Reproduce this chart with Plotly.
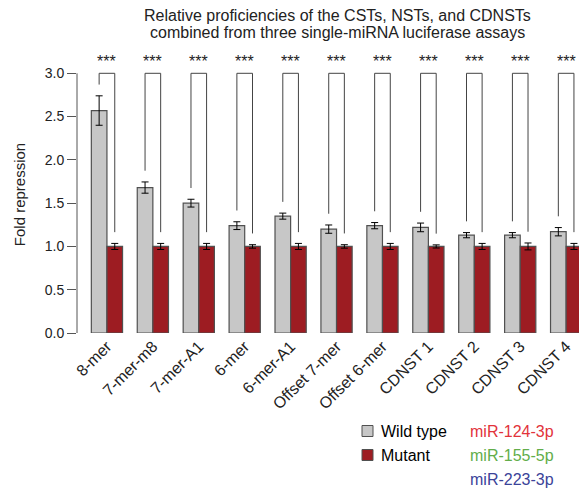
import plotly.graph_objects as go

# Site types tested in the luciferase assays
categories = ["8-mer", "7-mer-m8", "7-mer-A1", "6-mer", "6-mer-A1", "Offset 7-mer",
              "Offset 6-mer", "CDNST 1", "CDNST 2", "CDNST 3", "CDNST 4"]

# Fold repression (mean) and standard error
wild_type = [2.57, 1.68, 1.50, 1.24, 1.35, 1.20, 1.24, 1.22, 1.13, 1.13, 1.17]
wild_type_err = [0.17, 0.065, 0.045, 0.045, 0.035, 0.048, 0.036, 0.05, 0.03, 0.03, 0.048]
mutant = [1.00, 1.00, 1.00, 1.00, 1.00, 1.00, 1.00, 1.00, 1.00, 1.00, 1.00]
mutant_err = [0.035, 0.035, 0.035, 0.02, 0.035, 0.02, 0.035, 0.018, 0.035, 0.04, 0.035]
significance = ["***"] * len(categories)

mirnas = ["miR-124-3p", "miR-155-5p", "miR-223-3p"]
mirna_colors = ["#e2333b", "#62ad4a", "#3b4399"]

GRAY = "#c7c7c7"
RED = "#9d1c22"
EDGE = "#505050"
TEXT = "#222222"
FONT = "Liberation Sans, Arial, sans-serif"

W, H = 579, 493
L, T, B = 77, 56, 160
PLOT_H = H - T - B

x = list(range(len(categories)))
offset = 0.17
bar_w = 0.34

fig = go.Figure()

fig.add_trace(go.Bar(
    x=[i - offset for i in x], y=wild_type, width=bar_w, name="Wild type",
    marker=dict(color=GRAY, line=dict(color=EDGE, width=1.2)),
    error_y=dict(type="data", array=wild_type_err, color="black", thickness=1, width=3.5),
))
fig.add_trace(go.Bar(
    x=[i + offset for i in x], y=mutant, width=bar_w, name="Mutant",
    marker=dict(color=RED, line=dict(color=EDGE, width=1.2)),
    error_y=dict(type="data", array=mutant_err, color="black", thickness=1, width=3.5),
))

# Significance brackets joining each wild-type / mutant pair
top = 3.0
gap = 0.13
bx, by = [], []
for i, (w, we, m, me) in enumerate(zip(wild_type, wild_type_err, mutant, mutant_err)):
    bx += [i - offset, i - offset, i + offset, i + offset, None]
    by += [w + we + gap, top, top, m + me + gap, None]
fig.add_trace(go.Scatter(
    x=bx, y=by, mode="lines", line=dict(color="#444444", width=1),
    hoverinfo="skip", cliponaxis=False,
))

for i, s in enumerate(significance):
    fig.add_annotation(x=i, y=top + 0.02, text=s, showarrow=False, xref="x", yref="y",
                       yanchor="bottom", font=dict(family=FONT, size=16, color=TEXT))

# y axis line from 0 to 3
fig.add_shape(type="line", xref="paper", yref="y", x0=0, x1=0, y0=0, y1=3.0,
              line=dict(color="#555555", width=1))


def px(xp):
    """Pixel column -> paper x."""
    return (xp - L) / (W - L)


def py(yp):
    """Pixel row -> paper y."""
    return 1 - (yp - T) / PLOT_H


# Two-line title
for line, yc in [("Relative proficiencies of the CSTs, NSTs, and CDNSTs", 15.0),
                 ("combined from three single-miRNA luciferase assays", 32.5)]:
    fig.add_annotation(xref="paper", yref="paper", x=px(337), y=py(yc), text=line,
                       showarrow=False, xanchor="center", yanchor="middle",
                       font=dict(family=FONT, size=16, color=TEXT))

# Legend swatches and labels
legend_items = [("Wild type", GRAY, 431), ("Mutant", RED, 455)]
for label, col, yc in legend_items:
    fig.add_shape(type="rect", xref="paper", yref="paper",
                  x0=px(362), x1=px(373), y0=py(yc + 5.5), y1=py(yc - 5.5),
                  fillcolor=col, line=dict(color=EDGE, width=1))
    fig.add_annotation(xref="paper", yref="paper", x=px(379), y=py(yc),
                       text=label, showarrow=False, xanchor="left", yanchor="middle",
                       font=dict(family=FONT, size=16, color="black"))

for name, col, yc in zip(mirnas, mirna_colors, [431, 455, 479]):
    fig.add_annotation(xref="paper", yref="paper", x=px(468), y=py(yc),
                       text=name, showarrow=False, xanchor="left", yanchor="middle",
                       font=dict(family=FONT, size=16, color=col))

fig.update_layout(
    width=W, height=H,
    margin=dict(l=L, r=0, t=T, b=B),
    plot_bgcolor="white", paper_bgcolor="white",
    font=dict(family=FONT, size=14, color=TEXT),
    barmode="overlay",
    showlegend=False,
    xaxis=dict(range=[-0.652, 10.28], tickvals=x, ticktext=categories, tickangle=-45,
               showline=False, showgrid=False, zeroline=False, ticks="",
               tickfont=dict(family=FONT, size=16, color=TEXT)),
    yaxis=dict(range=[0, 3.2], tickvals=[0, 0.5, 1.0, 1.5, 2.0, 2.5, 3.0],
               ticktext=["0.0", "0.5", "1.0", "1.5", "2.0", "2.5", "3.0"],
               ticks="outside", ticklen=9, tickcolor="#555555", showline=False,
               showgrid=False, zeroline=False,
               title=dict(text="Fold repression", font=dict(family=FONT, size=15, color=TEXT), standoff=15),
               tickfont=dict(family=FONT, size=14, color=TEXT)),
)

fig.write_html("out.html")
